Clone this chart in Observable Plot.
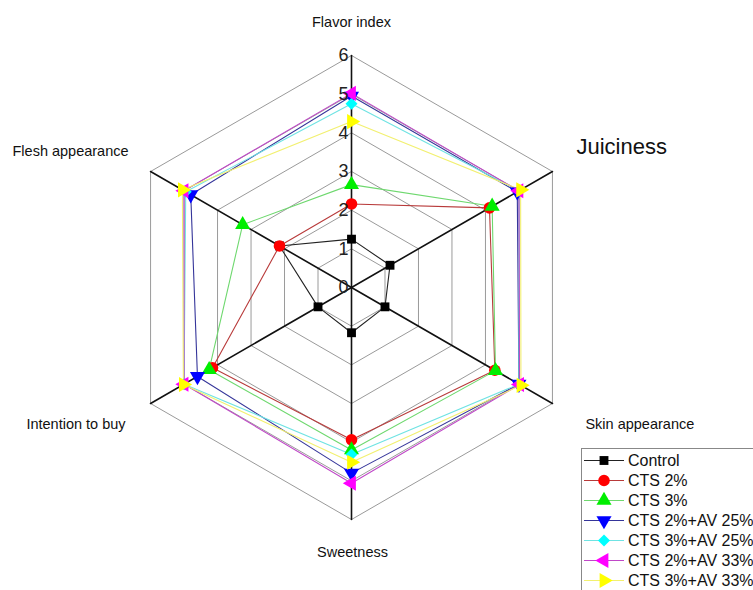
<!DOCTYPE html>
<html><head><meta charset="utf-8">
<script src="https://cdn.jsdelivr.net/npm/d3@7"></script>
<script src="https://cdn.jsdelivr.net/npm/@observablehq/plot@0.6"></script>
<style>
body{margin:0;background:#fff;overflow:hidden}
#wrap{position:relative;width:753px;height:590px;font-family:Arial,"Liberation Sans",sans-serif;overflow:hidden}
#legend{position:absolute;left:581px;top:448px;width:210px;height:170px;border:1px solid #888;background:#fff}
</style></head><body><div id="wrap"><div id="chart"></div><div id="legend"></div></div>
<script>
// ---- data ----
const axes = ["Flavor index","Juiciness","Skin appearance","Sweetness","Intention to buy","Flesh appearance"];
const seriesNames = ["Control","CTS 2%","CTS 3%","CTS 2%+AV 25%","CTS 3%+AV 25%","CTS 2%+AV 33%","CTS 3%+AV 33%"];
const control  = [1.25,1.15,1.00,1.17,1.00,2.15];
const cts2     = [2.16,4.12,4.28,3.94,4.15,2.15];
const cts3     = [2.66,4.20,4.30,4.20,4.25,3.25];
const cts2av25 = [4.95,4.95,5.00,4.80,4.60,4.80];
const cts3av25 = [4.75,5.00,5.00,4.32,5.00,4.95];
const cts2av33 = [5.02,5.00,5.02,5.06,5.00,5.00];
const cts3av33 = [4.29,5.05,5.06,4.52,5.02,5.05];
const ticks = [0,1,2,3,4,5,6];
const values = [control,cts2,cts3,cts2av25,cts3av25,cts2av33,cts3av33];

// ---- styles ----
const styles = [
  {line:"#222", fill:"#000", symbol:"square", r:5, rotate:0},
  {line:"#b83a3a", fill:"#ff0000", symbol:"circle", r:5.8, rotate:0},
  {line:"#6ed86e", fill:"#00ee00", symbol:"triangle", r:5.6, rotate:0},
  {line:"#35359a", fill:"#0000ff", symbol:"triangle", r:5.6, rotate:180},
  {line:"#6fe3e3", fill:"#00ffff", symbol:"diamond2", r:5.4, rotate:0},
  {line:"#c048c8", fill:"#ff00ff", symbol:"triangle", r:5.6, rotate:-90},
  {line:"#f2f070", fill:"#ffff00", symbol:"triangle", r:5.6, rotate:90}
];

const k = 38.67, cx = 351, cy = 287, W = 753, H = 590;
const ang = i => i * Math.PI / 3;
const px = (r,i) => r * Math.sin(ang(i));
const py = (r,i) => r * Math.cos(ang(i));

const ringPts = ticks.filter(t => t > 0).flatMap(t => d3.range(7).map(i => ({t, x: px(t, i%6), y: py(t, i%6)})));
const spokePts = axes.flatMap((a,i) => [{a, x:0, y:0},{a, x:px(6,i), y:py(6,i)}]);

const seriesMarks = values.map((vals, s) => {
  const pts = d3.range(7).map(i => ({x: px(vals[i%6], i%6), y: py(vals[i%6], i%6)}));
  return Plot.line(pts, {x:"x", y:"y", stroke: styles[s].line, strokeWidth: 1.1});
});
const dotMarks = values.map((vals, s) => {
  const st = styles[s];
  return Plot.dot(vals.map((v,i)=>({x:px(v,i), y:py(v,i)})), {x:"x", y:"y", symbol: st.symbol, r: st.r, fill: st.fill, rotate: st.rotate});
});

const labelLayout = [
  {dx:0, dy:-33, anchor:"middle", size:14.5},
  {dx:24, dy:-25, anchor:"start", size:22},
  {dx:33, dy:21, anchor:"start", size:14.5},
  {dx:1, dy:33, anchor:"middle", size:14.5},
  {dx:-25, dy:21, anchor:"end", size:14.5},
  {dx:-22, dy:-20, anchor:"end", size:14.5}
];
const labelMarks = axes.map((a,i) => Plot.text([a], {
  x: () => px(6,i), y: () => py(6,i), text: d => d,
  dx: labelLayout[i].dx, dy: labelLayout[i].dy, textAnchor: labelLayout[i].anchor,
  fontSize: labelLayout[i].size, fill: "#111"
}));

const plot = Plot.plot({
  width: W, height: H, margin: 0,
  style: {fontFamily: "Arial, 'Liberation Sans', sans-serif", background: "#fff"},
  x: {domain: [-cx/k, (W-cx)/k], range: [0, W], axis: null},
  y: {domain: [-(H-cy)/k, cy/k], range: [H, 0], axis: null},
  marks: [
    Plot.line(ringPts, {x:"x", y:"y", z:"t", stroke:"#9a9a9a", strokeWidth:1}),
    Plot.line(spokePts, {x:"x", y:"y", z:"a", stroke:"#111", strokeWidth:1.6}),
    ...seriesMarks,
    ...dotMarks,
    Plot.text(ticks, {x: () => 0, y: d => d, text: d => String(d), dx: -3, textAnchor: "end", fontSize: 18, fill: "#222"}),
    ...labelMarks
  ]
});
document.getElementById("chart").appendChild(plot);

// ---- legend ----
const lg = d3.select("#legend").append("svg").attr("width", 210).attr("height", 170);
seriesNames.forEach((name, s) => {
  const st = styles[s];
  const y = 11.5 + s * 20;
  const g = lg.append("g").attr("transform", `translate(0,${y})`);
  g.append("line").attr("x1", 2).attr("x2", 42).attr("y1", 0).attr("y2", 0).attr("stroke", st.line).attr("stroke-width", 1.1);
  const sym = {square: d3.symbolSquare, circle: d3.symbolCircle, triangle: d3.symbolTriangle, diamond2: d3.symbolDiamond2}[st.symbol];
  g.append("path").attr("d", d3.symbol(sym, Math.PI * st.r * st.r)()).attr("fill", st.fill)
    .attr("transform", `translate(22,0) rotate(${st.rotate})`);
  g.append("text").attr("x", 46).attr("y", 0).attr("dy", "0.35em").attr("font-size", 16).attr("fill", "#111").text(name);
});
</script></body></html>
